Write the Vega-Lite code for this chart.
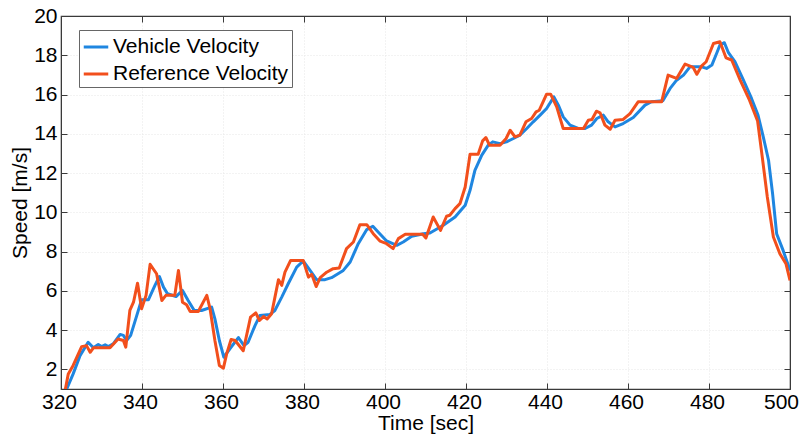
{
  "$schema": "https://vega.github.io/schema/vega-lite/v6.json",
  "width": 729,
  "height": 373,
  "autosize": {"type": "none"},
  "padding": {"left": 61, "top": 16, "right": 14, "bottom": 49},
  "background": "white",
  "config": {
    "font": "Liberation Sans",
    "view": {"stroke": "#3a3a3a", "strokeWidth": 1.2},
    "axis": {
      "labelFont": "Liberation Sans",
      "titleFont": "Liberation Sans",
      "labelFontSize": 21,
      "titleFontSize": 21,
      "labelColor": "#000000",
      "titleColor": "#000000",
      "titleFontWeight": "normal",
      "domainColor": "#3a3a3a",
      "tickColor": "#3a3a3a",
      "gridColor": "#e6e6e6",
      "gridDash": [1, 2],
      "gridWidth": 1
    }
  },
  "datasets": {
    "speed": [
      {"t": 321.0, "v": 0.8, "s": "Vehicle Velocity"},
      {"t": 323.0, "v": 1.77, "s": "Vehicle Velocity"},
      {"t": 324.7, "v": 2.7, "s": "Vehicle Velocity"},
      {"t": 326.7, "v": 3.38, "s": "Vehicle Velocity"},
      {"t": 328.0, "v": 3.1, "s": "Vehicle Velocity"},
      {"t": 329.2, "v": 3.27, "s": "Vehicle Velocity"},
      {"t": 330.0, "v": 3.16, "s": "Vehicle Velocity"},
      {"t": 330.9, "v": 3.25, "s": "Vehicle Velocity"},
      {"t": 331.7, "v": 3.16, "s": "Vehicle Velocity"},
      {"t": 332.9, "v": 3.3, "s": "Vehicle Velocity"},
      {"t": 334.6, "v": 3.78, "s": "Vehicle Velocity"},
      {"t": 335.4, "v": 3.73, "s": "Vehicle Velocity"},
      {"t": 336.2, "v": 3.47, "s": "Vehicle Velocity"},
      {"t": 337.2, "v": 3.73, "s": "Vehicle Velocity"},
      {"t": 338.7, "v": 4.74, "s": "Vehicle Velocity"},
      {"t": 339.9, "v": 5.55, "s": "Vehicle Velocity"},
      {"t": 341.6, "v": 5.55, "s": "Vehicle Velocity"},
      {"t": 343.2, "v": 6.28, "s": "Vehicle Velocity"},
      {"t": 344.3, "v": 6.73, "s": "Vehicle Velocity"},
      {"t": 345.3, "v": 6.19, "s": "Vehicle Velocity"},
      {"t": 346.3, "v": 5.85, "s": "Vehicle Velocity"},
      {"t": 348.4, "v": 5.71, "s": "Vehicle Velocity"},
      {"t": 350.0, "v": 6.02, "s": "Vehicle Velocity"},
      {"t": 351.4, "v": 5.51, "s": "Vehicle Velocity"},
      {"t": 352.9, "v": 5.0, "s": "Vehicle Velocity"},
      {"t": 354.7, "v": 5.0, "s": "Vehicle Velocity"},
      {"t": 357.2, "v": 5.17, "s": "Vehicle Velocity"},
      {"t": 358.0, "v": 4.57, "s": "Vehicle Velocity"},
      {"t": 359.1, "v": 3.47, "s": "Vehicle Velocity"},
      {"t": 360.2, "v": 2.62, "s": "Vehicle Velocity"},
      {"t": 361.7, "v": 3.05, "s": "Vehicle Velocity"},
      {"t": 363.8, "v": 3.62, "s": "Vehicle Velocity"},
      {"t": 365.2, "v": 3.21, "s": "Vehicle Velocity"},
      {"t": 366.2, "v": 3.38, "s": "Vehicle Velocity"},
      {"t": 367.9, "v": 4.23, "s": "Vehicle Velocity"},
      {"t": 369.1, "v": 4.74, "s": "Vehicle Velocity"},
      {"t": 371.6, "v": 4.8, "s": "Vehicle Velocity"},
      {"t": 372.8, "v": 5.0, "s": "Vehicle Velocity"},
      {"t": 374.5, "v": 5.68, "s": "Vehicle Velocity"},
      {"t": 376.1, "v": 6.36, "s": "Vehicle Velocity"},
      {"t": 378.2, "v": 7.21, "s": "Vehicle Velocity"},
      {"t": 379.8, "v": 7.52, "s": "Vehicle Velocity"},
      {"t": 381.5, "v": 7.04, "s": "Vehicle Velocity"},
      {"t": 383.1, "v": 6.57, "s": "Vehicle Velocity"},
      {"t": 385.2, "v": 6.57, "s": "Vehicle Velocity"},
      {"t": 386.8, "v": 6.67, "s": "Vehicle Velocity"},
      {"t": 389.7, "v": 7.04, "s": "Vehicle Velocity"},
      {"t": 391.4, "v": 7.47, "s": "Vehicle Velocity"},
      {"t": 393.4, "v": 8.4, "s": "Vehicle Velocity"},
      {"t": 395.5, "v": 9.12, "s": "Vehicle Velocity"},
      {"t": 397.0, "v": 9.29, "s": "Vehicle Velocity"},
      {"t": 398.3, "v": 9.0, "s": "Vehicle Velocity"},
      {"t": 400.4, "v": 8.54, "s": "Vehicle Velocity"},
      {"t": 402.9, "v": 8.32, "s": "Vehicle Velocity"},
      {"t": 404.5, "v": 8.49, "s": "Vehicle Velocity"},
      {"t": 406.6, "v": 8.78, "s": "Vehicle Velocity"},
      {"t": 409.5, "v": 8.91, "s": "Vehicle Velocity"},
      {"t": 411.1, "v": 8.95, "s": "Vehicle Velocity"},
      {"t": 414.4, "v": 9.34, "s": "Vehicle Velocity"},
      {"t": 417.3, "v": 9.76, "s": "Vehicle Velocity"},
      {"t": 419.8, "v": 10.36, "s": "Vehicle Velocity"},
      {"t": 421.0, "v": 11.12, "s": "Vehicle Velocity"},
      {"t": 422.2, "v": 12.14, "s": "Vehicle Velocity"},
      {"t": 423.9, "v": 12.91, "s": "Vehicle Velocity"},
      {"t": 425.5, "v": 13.42, "s": "Vehicle Velocity"},
      {"t": 426.6, "v": 13.59, "s": "Vehicle Velocity"},
      {"t": 428.4, "v": 13.5, "s": "Vehicle Velocity"},
      {"t": 430.0, "v": 13.59, "s": "Vehicle Velocity"},
      {"t": 431.7, "v": 13.76, "s": "Vehicle Velocity"},
      {"t": 433.3, "v": 13.93, "s": "Vehicle Velocity"},
      {"t": 435.0, "v": 14.27, "s": "Vehicle Velocity"},
      {"t": 436.6, "v": 14.61, "s": "Vehicle Velocity"},
      {"t": 438.3, "v": 14.95, "s": "Vehicle Velocity"},
      {"t": 439.9, "v": 15.29, "s": "Vehicle Velocity"},
      {"t": 441.7, "v": 15.88, "s": "Vehicle Velocity"},
      {"t": 442.8, "v": 15.46, "s": "Vehicle Velocity"},
      {"t": 444.0, "v": 14.86, "s": "Vehicle Velocity"},
      {"t": 445.7, "v": 14.44, "s": "Vehicle Velocity"},
      {"t": 447.7, "v": 14.27, "s": "Vehicle Velocity"},
      {"t": 449.4, "v": 14.27, "s": "Vehicle Velocity"},
      {"t": 451.0, "v": 14.44, "s": "Vehicle Velocity"},
      {"t": 452.3, "v": 14.78, "s": "Vehicle Velocity"},
      {"t": 453.9, "v": 14.95, "s": "Vehicle Velocity"},
      {"t": 455.1, "v": 14.61, "s": "Vehicle Velocity"},
      {"t": 456.8, "v": 14.35, "s": "Vehicle Velocity"},
      {"t": 458.8, "v": 14.52, "s": "Vehicle Velocity"},
      {"t": 461.3, "v": 14.83, "s": "Vehicle Velocity"},
      {"t": 464.2, "v": 15.46, "s": "Vehicle Velocity"},
      {"t": 465.8, "v": 15.63, "s": "Vehicle Velocity"},
      {"t": 468.6, "v": 15.68, "s": "Vehicle Velocity"},
      {"t": 470.4, "v": 16.31, "s": "Vehicle Velocity"},
      {"t": 472.0, "v": 16.73, "s": "Vehicle Velocity"},
      {"t": 473.7, "v": 16.99, "s": "Vehicle Velocity"},
      {"t": 475.3, "v": 17.41, "s": "Vehicle Velocity"},
      {"t": 478.2, "v": 17.41, "s": "Vehicle Velocity"},
      {"t": 479.4, "v": 17.33, "s": "Vehicle Velocity"},
      {"t": 480.7, "v": 17.5, "s": "Vehicle Velocity"},
      {"t": 481.9, "v": 18.1, "s": "Vehicle Velocity"},
      {"t": 482.7, "v": 18.52, "s": "Vehicle Velocity"},
      {"t": 483.8, "v": 18.64, "s": "Vehicle Velocity"},
      {"t": 484.8, "v": 18.13, "s": "Vehicle Velocity"},
      {"t": 486.4, "v": 17.67, "s": "Vehicle Velocity"},
      {"t": 488.5, "v": 16.73, "s": "Vehicle Velocity"},
      {"t": 490.5, "v": 15.8, "s": "Vehicle Velocity"},
      {"t": 492.1, "v": 14.95, "s": "Vehicle Velocity"},
      {"t": 493.4, "v": 13.84, "s": "Vehicle Velocity"},
      {"t": 494.7, "v": 12.65, "s": "Vehicle Velocity"},
      {"t": 495.7, "v": 10.95, "s": "Vehicle Velocity"},
      {"t": 496.7, "v": 8.91, "s": "Vehicle Velocity"},
      {"t": 498.3, "v": 8.06, "s": "Vehicle Velocity"},
      {"t": 500.0, "v": 7.04, "s": "Vehicle Velocity"},
      {"t": 321.0, "v": 0.9, "s": "Reference Velocity"},
      {"t": 321.8, "v": 1.77, "s": "Reference Velocity"},
      {"t": 323.0, "v": 2.2, "s": "Reference Velocity"},
      {"t": 325.1, "v": 3.16, "s": "Reference Velocity"},
      {"t": 326.3, "v": 3.21, "s": "Reference Velocity"},
      {"t": 327.2, "v": 2.87, "s": "Reference Velocity"},
      {"t": 328.0, "v": 3.1, "s": "Reference Velocity"},
      {"t": 332.1, "v": 3.1, "s": "Reference Velocity"},
      {"t": 334.1, "v": 3.55, "s": "Reference Velocity"},
      {"t": 335.4, "v": 3.47, "s": "Reference Velocity"},
      {"t": 336.0, "v": 3.13, "s": "Reference Velocity"},
      {"t": 337.0, "v": 5.0, "s": "Reference Velocity"},
      {"t": 337.9, "v": 5.42, "s": "Reference Velocity"},
      {"t": 338.9, "v": 6.39, "s": "Reference Velocity"},
      {"t": 339.9, "v": 5.09, "s": "Reference Velocity"},
      {"t": 341.0, "v": 5.77, "s": "Reference Velocity"},
      {"t": 342.0, "v": 7.35, "s": "Reference Velocity"},
      {"t": 343.6, "v": 6.87, "s": "Reference Velocity"},
      {"t": 344.9, "v": 5.51, "s": "Reference Velocity"},
      {"t": 345.9, "v": 5.77, "s": "Reference Velocity"},
      {"t": 348.1, "v": 5.77, "s": "Reference Velocity"},
      {"t": 349.0, "v": 7.04, "s": "Reference Velocity"},
      {"t": 350.0, "v": 5.42, "s": "Reference Velocity"},
      {"t": 351.0, "v": 5.29, "s": "Reference Velocity"},
      {"t": 351.9, "v": 4.95, "s": "Reference Velocity"},
      {"t": 353.9, "v": 4.95, "s": "Reference Velocity"},
      {"t": 356.0, "v": 5.77, "s": "Reference Velocity"},
      {"t": 356.8, "v": 5.09, "s": "Reference Velocity"},
      {"t": 358.0, "v": 3.47, "s": "Reference Velocity"},
      {"t": 359.1, "v": 2.2, "s": "Reference Velocity"},
      {"t": 360.1, "v": 2.06, "s": "Reference Velocity"},
      {"t": 360.9, "v": 2.79, "s": "Reference Velocity"},
      {"t": 362.0, "v": 3.52, "s": "Reference Velocity"},
      {"t": 363.0, "v": 3.47, "s": "Reference Velocity"},
      {"t": 365.0, "v": 2.95, "s": "Reference Velocity"},
      {"t": 366.8, "v": 4.66, "s": "Reference Velocity"},
      {"t": 368.1, "v": 4.88, "s": "Reference Velocity"},
      {"t": 369.0, "v": 4.49, "s": "Reference Velocity"},
      {"t": 370.0, "v": 4.69, "s": "Reference Velocity"},
      {"t": 370.9, "v": 4.57, "s": "Reference Velocity"},
      {"t": 372.0, "v": 4.83, "s": "Reference Velocity"},
      {"t": 373.7, "v": 6.57, "s": "Reference Velocity"},
      {"t": 374.5, "v": 6.28, "s": "Reference Velocity"},
      {"t": 375.3, "v": 6.95, "s": "Reference Velocity"},
      {"t": 376.7, "v": 7.55, "s": "Reference Velocity"},
      {"t": 379.8, "v": 7.55, "s": "Reference Velocity"},
      {"t": 381.1, "v": 6.7, "s": "Reference Velocity"},
      {"t": 381.9, "v": 6.84, "s": "Reference Velocity"},
      {"t": 383.0, "v": 6.22, "s": "Reference Velocity"},
      {"t": 384.0, "v": 6.67, "s": "Reference Velocity"},
      {"t": 385.6, "v": 6.95, "s": "Reference Velocity"},
      {"t": 387.2, "v": 7.13, "s": "Reference Velocity"},
      {"t": 388.7, "v": 7.16, "s": "Reference Velocity"},
      {"t": 390.5, "v": 8.15, "s": "Reference Velocity"},
      {"t": 392.2, "v": 8.49, "s": "Reference Velocity"},
      {"t": 393.8, "v": 9.37, "s": "Reference Velocity"},
      {"t": 395.5, "v": 9.37, "s": "Reference Velocity"},
      {"t": 397.1, "v": 8.91, "s": "Reference Velocity"},
      {"t": 398.8, "v": 8.53, "s": "Reference Velocity"},
      {"t": 400.4, "v": 8.4, "s": "Reference Velocity"},
      {"t": 402.0, "v": 8.15, "s": "Reference Velocity"},
      {"t": 403.3, "v": 8.66, "s": "Reference Velocity"},
      {"t": 405.0, "v": 8.88, "s": "Reference Velocity"},
      {"t": 409.3, "v": 8.88, "s": "Reference Velocity"},
      {"t": 410.1, "v": 8.69, "s": "Reference Velocity"},
      {"t": 411.9, "v": 9.76, "s": "Reference Velocity"},
      {"t": 413.7, "v": 9.08, "s": "Reference Velocity"},
      {"t": 415.2, "v": 9.8, "s": "Reference Velocity"},
      {"t": 416.0, "v": 9.85, "s": "Reference Velocity"},
      {"t": 417.3, "v": 10.19, "s": "Reference Velocity"},
      {"t": 418.5, "v": 10.44, "s": "Reference Velocity"},
      {"t": 419.8, "v": 11.29, "s": "Reference Velocity"},
      {"t": 421.0, "v": 12.96, "s": "Reference Velocity"},
      {"t": 423.0, "v": 12.96, "s": "Reference Velocity"},
      {"t": 424.1, "v": 13.64, "s": "Reference Velocity"},
      {"t": 424.9, "v": 13.81, "s": "Reference Velocity"},
      {"t": 425.8, "v": 13.42, "s": "Reference Velocity"},
      {"t": 428.4, "v": 13.42, "s": "Reference Velocity"},
      {"t": 429.9, "v": 13.76, "s": "Reference Velocity"},
      {"t": 430.9, "v": 14.18, "s": "Reference Velocity"},
      {"t": 432.1, "v": 13.84, "s": "Reference Velocity"},
      {"t": 433.3, "v": 13.93, "s": "Reference Velocity"},
      {"t": 434.8, "v": 14.61, "s": "Reference Velocity"},
      {"t": 436.2, "v": 14.78, "s": "Reference Velocity"},
      {"t": 437.3, "v": 15.12, "s": "Reference Velocity"},
      {"t": 438.1, "v": 15.2, "s": "Reference Velocity"},
      {"t": 439.9, "v": 16.02, "s": "Reference Velocity"},
      {"t": 440.9, "v": 16.02, "s": "Reference Velocity"},
      {"t": 442.4, "v": 15.37, "s": "Reference Velocity"},
      {"t": 444.0, "v": 14.27, "s": "Reference Velocity"},
      {"t": 449.0, "v": 14.27, "s": "Reference Velocity"},
      {"t": 450.2, "v": 14.69, "s": "Reference Velocity"},
      {"t": 451.1, "v": 14.73, "s": "Reference Velocity"},
      {"t": 452.2, "v": 15.15, "s": "Reference Velocity"},
      {"t": 453.1, "v": 15.07, "s": "Reference Velocity"},
      {"t": 454.3, "v": 14.44, "s": "Reference Velocity"},
      {"t": 455.6, "v": 14.23, "s": "Reference Velocity"},
      {"t": 456.8, "v": 14.69, "s": "Reference Velocity"},
      {"t": 458.8, "v": 14.73, "s": "Reference Velocity"},
      {"t": 460.5, "v": 15.03, "s": "Reference Velocity"},
      {"t": 462.5, "v": 15.63, "s": "Reference Velocity"},
      {"t": 468.3, "v": 15.63, "s": "Reference Velocity"},
      {"t": 469.9, "v": 16.99, "s": "Reference Velocity"},
      {"t": 472.0, "v": 16.82, "s": "Reference Velocity"},
      {"t": 474.1, "v": 17.55, "s": "Reference Velocity"},
      {"t": 476.1, "v": 17.38, "s": "Reference Velocity"},
      {"t": 477.0, "v": 17.03, "s": "Reference Velocity"},
      {"t": 478.2, "v": 17.46, "s": "Reference Velocity"},
      {"t": 479.3, "v": 17.67, "s": "Reference Velocity"},
      {"t": 481.1, "v": 18.6, "s": "Reference Velocity"},
      {"t": 482.7, "v": 18.69, "s": "Reference Velocity"},
      {"t": 484.2, "v": 17.87, "s": "Reference Velocity"},
      {"t": 485.6, "v": 17.76, "s": "Reference Velocity"},
      {"t": 487.7, "v": 16.73, "s": "Reference Velocity"},
      {"t": 490.0, "v": 15.71, "s": "Reference Velocity"},
      {"t": 492.0, "v": 14.65, "s": "Reference Velocity"},
      {"t": 493.1, "v": 12.9, "s": "Reference Velocity"},
      {"t": 494.4, "v": 10.78, "s": "Reference Velocity"},
      {"t": 495.9, "v": 8.74, "s": "Reference Velocity"},
      {"t": 497.5, "v": 7.89, "s": "Reference Velocity"},
      {"t": 499.0, "v": 7.38, "s": "Reference Velocity"},
      {"t": 500.0, "v": 6.53, "s": "Reference Velocity"}
    ]
  },
  "data": {"name": "speed"},
  "resolve": {"axis": {"x": "independent", "y": "independent"}},
  "layer": [
    {
      "mark": {"type": "line", "strokeWidth": 3, "clip": true, "strokeJoin": "round"},
      "encoding": {
        "x": {
          "field": "t", "type": "quantitative",
          "scale": {"domain": [320, 500], "nice": false, "zero": false},
          "axis": {
            "orient": "bottom", "title": "Time [sec]", "values": [320, 340, 360, 380, 400, 420, 440, 460, 480, 500],
            "tickSize": -6, "labelPadding": 8, "titlePadding": 0, "labelFlush": false, "labelOverlap": false,
            "labelOffset": {"condition": {"test": "datum.value == 500", "value": -9}, "value": -2},
            "grid": true, "domain": true
          }
        },
        "y": {
          "field": "v", "type": "quantitative",
          "scale": {"domain": [1, 20], "nice": false, "zero": false},
          "axis": {
            "orient": "left", "title": "Speed [m/s]", "values": [2, 4, 6, 8, 10, 12, 14, 16, 18, 20],
            "tickSize": -6, "labelPadding": 10, "titlePadding": 3, "labelFlush": false, "labelOverlap": false,
            "grid": true, "domain": true
          }
        },
        "color": {
          "field": "s", "type": "nominal",
          "scale": {"domain": ["Vehicle Velocity", "Reference Velocity"], "range": ["#1f86e0", "#f24f1c"]},
          "legend": {
            "title": null, "orient": "none", "legendX": 18, "legendY": 14,
            "labelFontSize": 21, "labelFont": "Liberation Sans", "labelColor": "#000000", "labelLimit": 400,
            "symbolType": "stroke", "symbolStrokeWidth": 3, "symbolSize": 600,
            "strokeColor": "#666666", "fillColor": "white", "padding": 3, "rowPadding": 3,
            "labelOffset": 3
          }
        },
        "order": {"field": "s", "sort": "descending"}
      }
    },
    {
      "mark": {"type": "line", "strokeOpacity": 0},
      "encoding": {
        "x": {
          "field": "t", "type": "quantitative",
          "axis": {"orient": "top", "title": null, "labels": false, "grid": false, "tickSize": -6,
                   "values": [320, 340, 360, 380, 400, 420, 440, 460, 480, 500]}
        },
        "y": {
          "field": "v", "type": "quantitative",
          "axis": {"orient": "right", "title": null, "labels": false, "grid": false, "tickSize": -6,
                   "values": [2, 4, 6, 8, 10, 12, 14, 16, 18, 20]}
        },
        "detail": {"field": "s"}
      }
    }
  ]
}
